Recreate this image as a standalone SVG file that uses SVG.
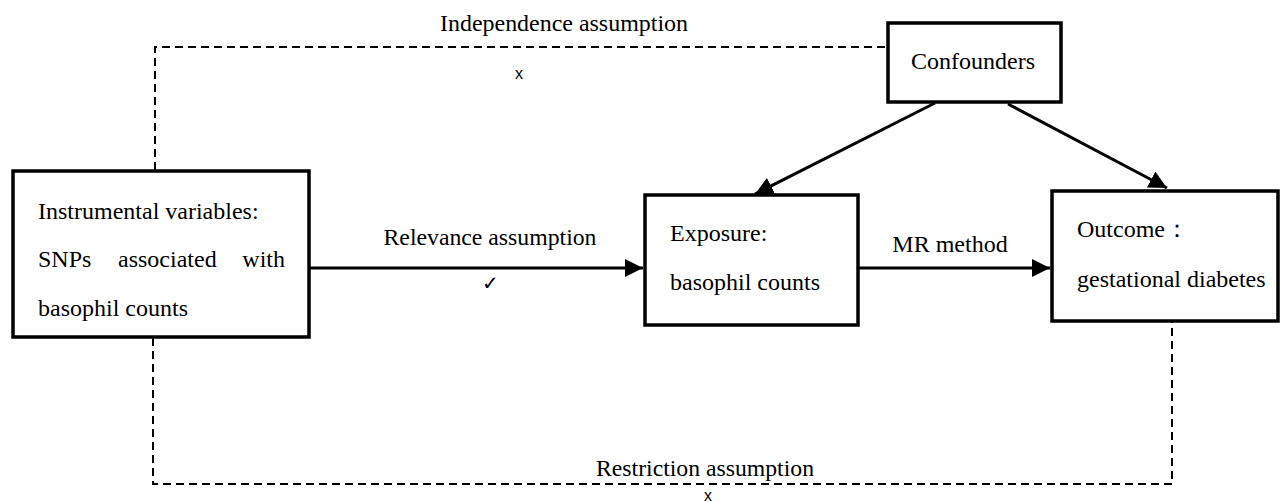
<svg xmlns="http://www.w3.org/2000/svg" width="1280" height="502" viewBox="0 0 1280 502">
<style>
.box{fill:#fff;stroke:#000;stroke-width:3.5}
.t{font-family:"Liberation Serif","Times New Roman",serif;font-size:24px;fill:#000}
.c{text-anchor:middle}
.x{font-family:"Liberation Sans",Arial,sans-serif;font-size:16px;fill:#000;text-anchor:middle}
.dash{fill:none;stroke:#000;stroke-width:2;stroke-dasharray:8 5}
.ln{fill:none;stroke:#000;stroke-width:3}
</style>
<defs>
<marker id="ah" viewBox="0 0 10 10" refX="10" refY="5" markerWidth="6" markerHeight="6" markerUnits="strokeWidth" orient="auto">
<path d="M0,0 L10,5 L0,10 Z" fill="#000"/>
</marker>
</defs>
<rect width="1280" height="502" fill="#fff"/>
<g id="connectors">
<polyline class="dash" points="155,170 155,47 888,47"/>
<polyline class="dash" points="153,338 153,484 1172,484 1172,322"/>
<line class="ln" x1="309" y1="268" x2="643" y2="268" marker-end="url(#ah)"/>
<line class="ln" x1="858" y1="268" x2="1050" y2="268" marker-end="url(#ah)"/>
<line class="ln" x1="935" y1="103" x2="755" y2="194" marker-end="url(#ah)"/>
<line class="ln" x1="1008" y1="104" x2="1167" y2="188" marker-end="url(#ah)"/>
<text class="t c" x="564" y="31" textLength="248" lengthAdjust="spacingAndGlyphs">Independence assumption</text>
<text class="x" x="519" y="79">x</text>
<text class="t c" x="490" y="245" textLength="213" lengthAdjust="spacingAndGlyphs">Relevance assumption</text>
<text class="t c" x="490" y="290" style="font-size:20px">✓</text>
<text class="t c" x="950" y="252">MR method</text>
<text class="t c" x="705" y="476" textLength="218" lengthAdjust="spacingAndGlyphs">Restriction assumption</text>
<text class="x" x="708" y="501">x</text>
</g>
<g id="node-iv">
<rect class="box" x="13" y="171" width="296" height="166"/>
<text class="t" x="38" y="219">Instrumental variables:</text>
<text class="t" x="38" y="267">SNPs</text>
<text class="t" x="118" y="267">associated</text>
<text class="t" x="285" y="267" text-anchor="end">with</text>
<text class="t" x="38" y="316">basophil counts</text>
</g>
<g id="node-exposure">
<rect class="box" x="645" y="195" width="213" height="130"/>
<text class="t" x="670" y="241">Exposure:</text>
<text class="t" x="670" y="290">basophil counts</text>
</g>
<g id="node-outcome">
<rect class="box" x="1052" y="191" width="226" height="130"/>
<text class="t" x="1077" y="237">Outcome：</text>
<text class="t" x="1077" y="287">gestational diabetes</text>
</g>
<g id="node-confounders">
<rect class="box" x="888" y="23" width="173" height="79"/>
<text class="t c" x="973" y="69">Confounders</text>
</g>
</svg>
